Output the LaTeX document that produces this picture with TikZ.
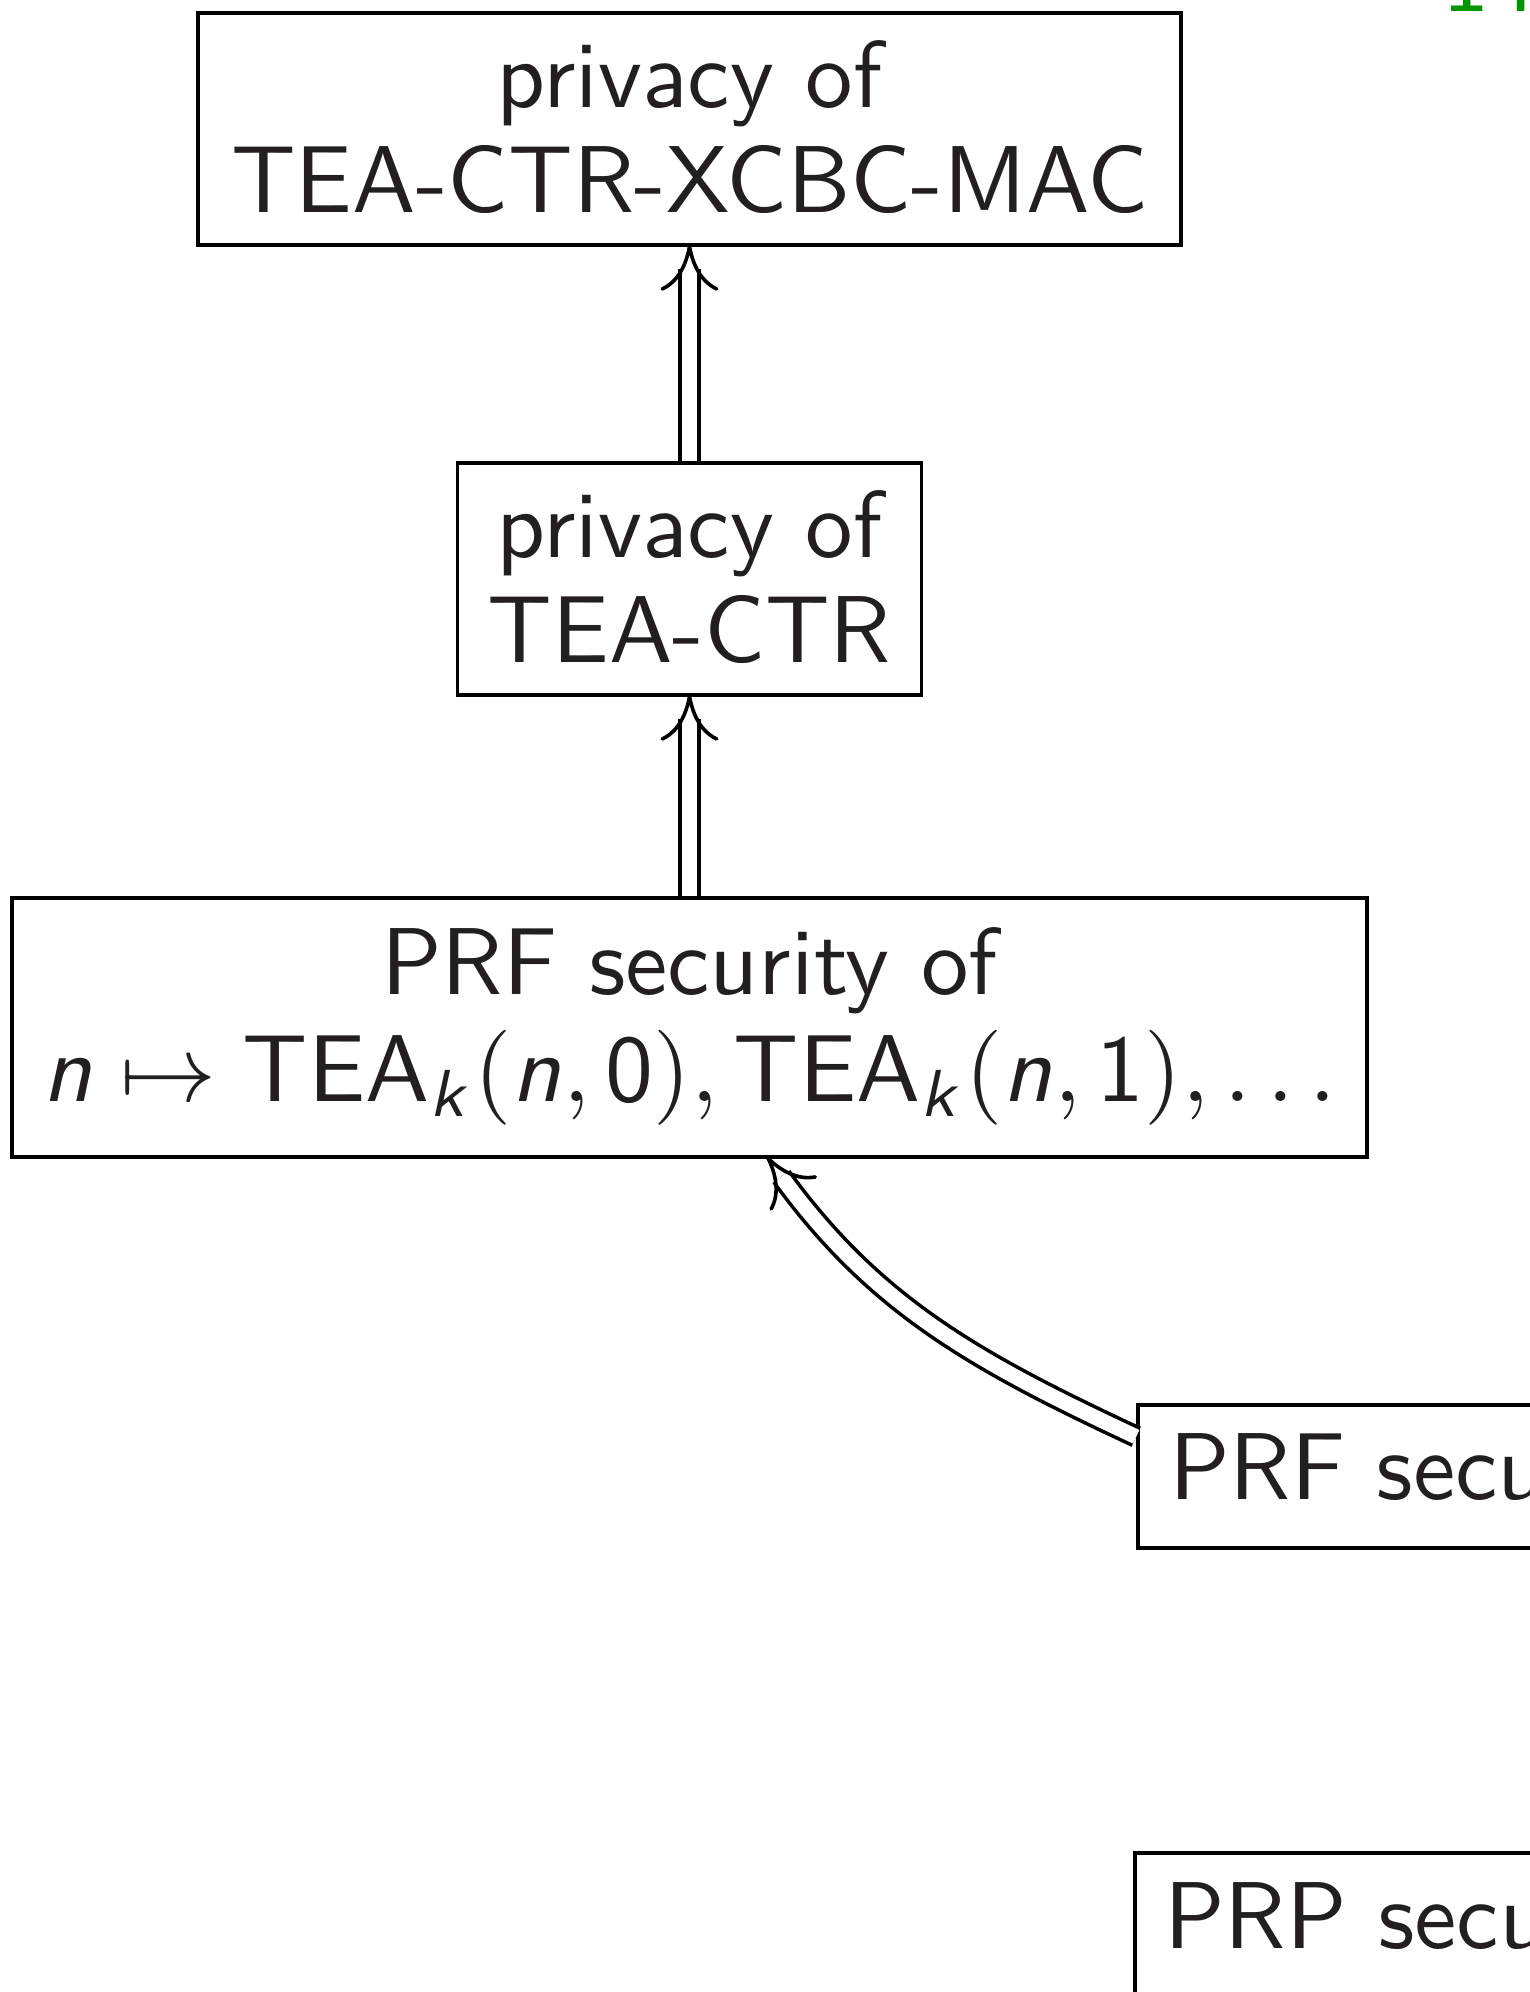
\documentclass[tikz,border=0pt]{standalone}
\usetikzlibrary{arrows.meta}
\DeclareMathAlphabet{\mathsfsl}{OT1}{cmss}{m}{sl}
\definecolor{ink}{RGB}{35,31,32}
\definecolor{slidegreen}{RGB}{0,150,0}
\tikzset{
  box/.style={draw=black, line width=1.8pt, inner sep=0pt, rectangle},
  txt/.style={anchor=base, inner sep=0pt, outer sep=0pt, scale=4.75, text=ink,
    font=\fontsize{10}{12}\selectfont\sffamily},
  impl/.style={double=white, double distance=7.5pt, line width=1.8pt, shorten >=11pt},
  head/.style={line width=1.8pt, line cap=round,
    -{Computer Modern Rightarrow[length=23pt, width=29pt]}},
}
\begin{document}
\begin{tikzpicture}[x=0.5pt, y=0.5pt]
\useasboundingbox[fill=white] (0,0) rectangle (1530,1992);
% boxes
\node[box, minimum width=491.5pt, minimum height=116pt] (b1) at (689.5,1863) {};
\node[box, minimum width=232pt, minimum height=116pt] (b2) at (689.5,1413) {};
\node[box, minimum width=677.5pt, minimum height=129.5pt] (b3) at (689.5,964.5) {};
\node[box, minimum width=281pt, minimum height=71.5pt] (b4) at (1419,515.5) {};
\node[box, minimum width=282.5pt, minimum height=71.5pt] (b5) at (1417.5,67.5) {};
% texts
\node[txt] (t1a) at (689.5,1884) {privacy of};
\node[txt] (t1b) at (689.5,1779) {TEA-CTR-XCBC-MAC};
\node[txt] (t2a) at (689.5,1434) {privacy of};
\node[txt] (t2b) at (689.5,1329) {TEA-CTR};
\node[txt] (t3a) at (689.5,997) {PRF security of};
\node[txt, xscale=1.01] (t3b) at (689.5,890) {$\mathsfsl{n}\mapsto\mathsf{TEA}_{\mathsfsl{k}}(\mathsfsl{n},\mathsf{0}),\mathsf{TEA}_{\mathsfsl{k}}(\mathsfsl{n},\mathsf{1}),\ldots$};
\node[txt, anchor=base west] (t4) at (1169,492) {PRF security};
\node[txt, anchor=base west] (t5) at (1164,44) {PRP security};
\node[txt, anchor=base west, text=slidegreen] (pg) at (1442,1980) {14};
% arrows: double shafts
\draw[impl] (b2.north) -- (b1.south);
\draw[impl] (b3.north) -- (b2.south);
\draw[impl] (b4.172.2) to[out=155, in=-54] (b3.301.9);
% arrow heads
\draw[head] ([yshift=0.5pt]b1.south) -- ([yshift=1pt]b1.south);
\draw[head] ([yshift=0.5pt]b2.south) -- ([yshift=1pt]b2.south);
\draw[head] ([shift={(126:0.5pt)}]b3.301.9) -- ([shift={(126:1pt)}]b3.301.9);
\end{tikzpicture}
\end{document}
